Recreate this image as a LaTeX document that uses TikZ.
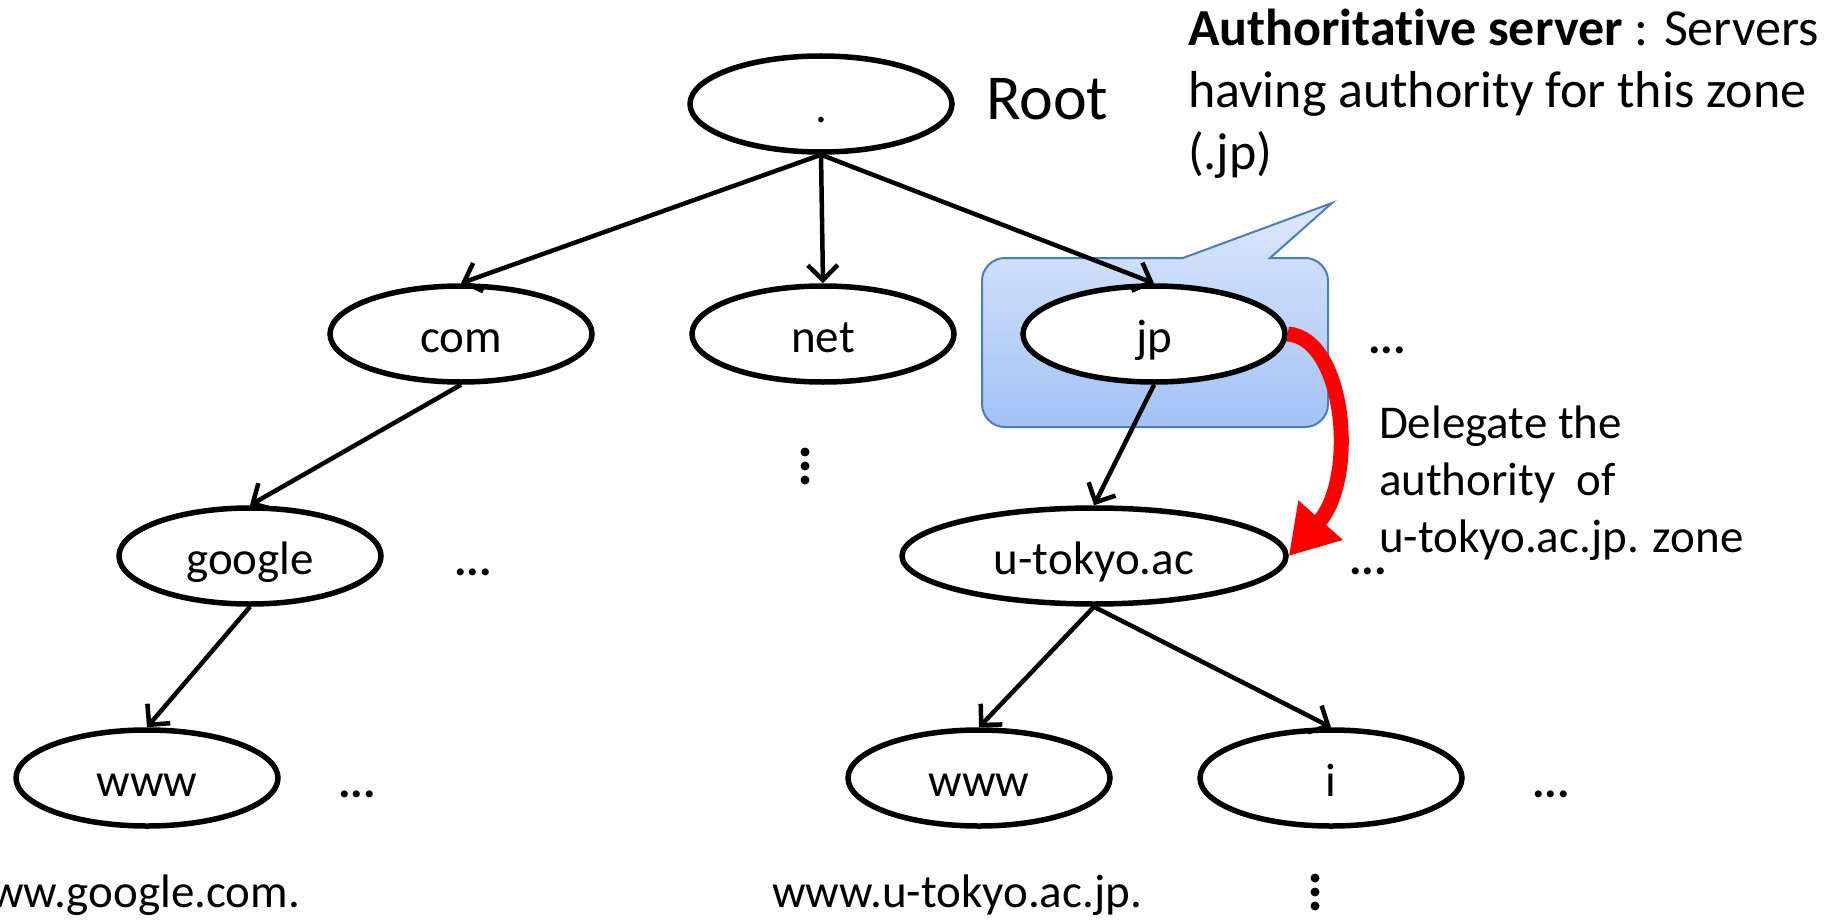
\documentclass[tikz,border=0pt]{standalone}
\usepackage{fontspec}
\setmainfont{Carlito}[Ligatures=NoCommon]
\usetikzlibrary{arrows.meta, positioning, shapes.geometric}
\definecolor{cedge}{HTML}{4A7EBB}
\definecolor{ctop}{HTML}{DDE8FB}
\definecolor{cbottom}{HTML}{A3C2F5}
\definecolor{cred}{HTML}{FF0000}
\tikzset{
  every picture/.style={line width=4pt},
  zone/.style={draw, ellipse, line width=5.5pt, fill=white, inner sep=0pt, minimum width=#1, minimum height=96pt,
    text height=37pt, text depth=0pt, font=\fontsize{47}{57}\selectfont},
  zone/.default=262pt,
  arrow/.style={-{Straight Barb[length=15pt, width=30pt, line width=4.5pt]}, line width=4.5pt},
  delegate/.style={-{Triangle[length=48pt, width=56pt]}, draw=cred, line width=15pt},
  moredots/.style={font=\fontsize{47}{57}\selectfont\bfseries, anchor=base, inner sep=0pt},
  fqdn/.style={font=\fontsize{47}{57}\selectfont, anchor=base, inner sep=0pt},
  note/.style={font=\fontsize{47}{57}\selectfont, align=left, anchor=base west, inner sep=0pt},
}

\begin{document}
\begin{tikzpicture}[x=1pt, y=-1pt]
  \useasboundingbox (0,0) rectangle (1827,920);
  \clip (0,0) rectangle (1827,920);
  % callout behind jp
  \shade[top color=ctop, bottom color=cbottom, draw=cedge, line width=2pt]
    (1270,258) [rounded corners=23pt] -- (1328,258) -- (1328,427) -- (982,427) -- (982,258)
    [sharp corners] -- (1183,258) -- (1332,203) -- cycle;
  % tree
  \node[zone] (root) at (821,104) {.};
  \node[font=\fontsize{64}{70}\selectfont, anchor=base west, inner sep=0pt] (rootname) at (984,120) {Root};
  \node[zone] (com) at (461,334) {com};
  \node[zone] (net) at (823,334) {net};
  \node[zone] (jp) at (1154,334) {jp};
  \node[zone] (google) at (250,556) {google};
  \node[zone=384pt] (utokyo) at (1094,556) {u-tokyo.ac};
  \node[zone] (wwwg) at (147,778) {www};
  \node[zone] (wwwu) at (979,778) {www};
  \node[zone] (iac) at (1331,778) {i};
  \foreach \a/\b in {root/com, root/net, root/jp, com/google, jp/utokyo, google/wwwg, utokyo/wwwu, utokyo/iac}
    \draw[arrow] (\a.south) -- (\b.north);
  % more siblings
  \node[moredots] (jpmore) at (1387,353) {...};
  \node[moredots] (googlemore) at (473,575) {...};
  \node[moredots] (utokyomore) at (1368,574) {...};
  \node[moredots] (wwwmore) at (357,797) {...};
  \node[moredots] (imore) at (1551,797) {...};
  \foreach \y in {452,466,480} \fill (805,\y) circle (4.5pt);
  \foreach \y in {878,892,906} \fill (1315,\y) circle (4.5pt);
  % delegation
  \draw[delegate] (jp.east) .. controls (1345,338) and (1358,478) .. (utokyo.east);
  \node[note] (delegnote) at (1377,552) {Delegate the\\authority\ \ of\\u-tokyo.ac.jp. zone};
  \node[note, font=\fontsize{52}{62}\selectfont] (authnote) at (1186,170)
    {\textbf{Authoritative server} : Servers\\having authority for this zone\\(.jp)};
  % full names
  \node[fqdn, anchor=base east] (googlename) at (302,907) {www.google.com.};
  \node[fqdn] (utokyoname) at (957,907) {www.u-tokyo.ac.jp.};
\end{tikzpicture}
\end{document}
